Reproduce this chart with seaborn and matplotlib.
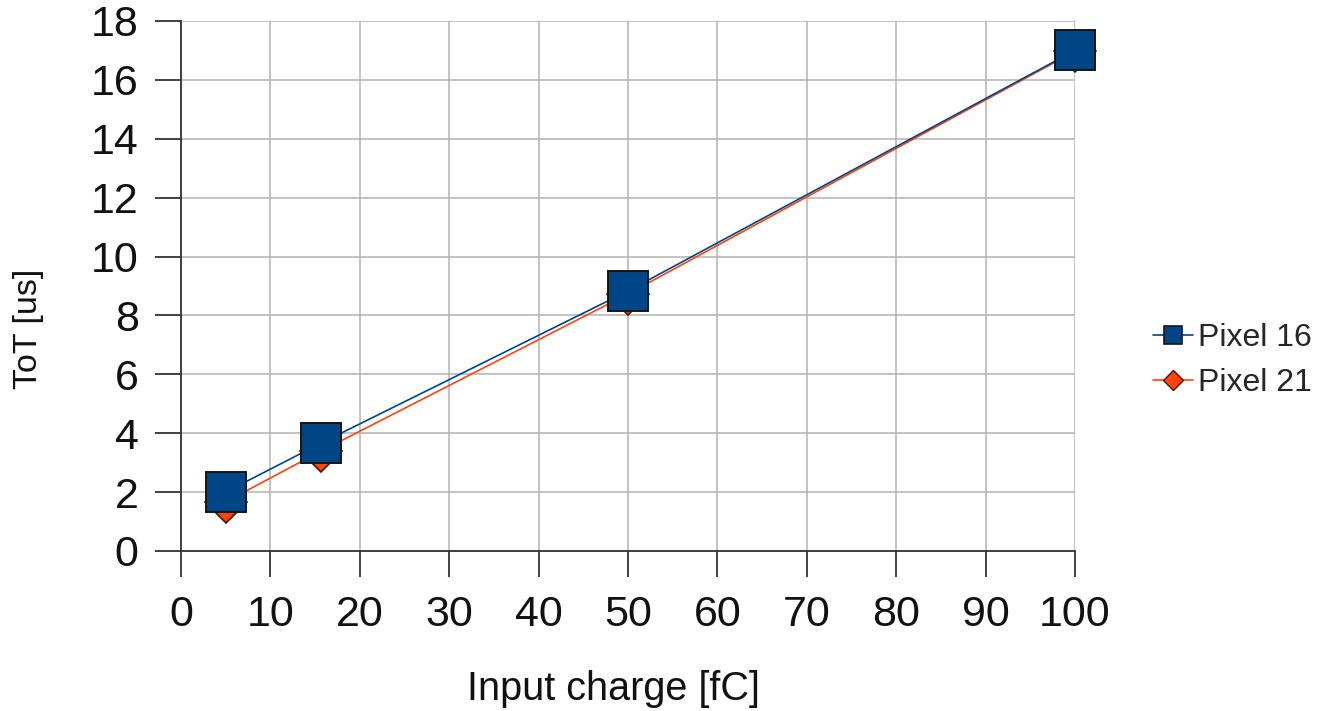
import matplotlib
matplotlib.use("Agg")
import matplotlib.pyplot as plt
from matplotlib.lines import Line2D
import seaborn as sns
import pandas as pd

charge_16 = [5, 15.7, 50, 100]
tot_16 = [2.0, 3.67, 8.83, 17.0]
charge_21 = [5, 15.7, 50, 100]
tot_21 = [1.67, 3.4, 8.73, 16.97]
x_ticks = [0, 10, 20, 30, 40, 50, 60, 70, 80, 90, 100]
y_ticks = [0, 2, 4, 6, 8, 10, 12, 14, 16, 18]

BLUE = "#004586"
RED = "#ff420e"

sns.set_theme(style="white")
plt.rcParams['font.family'] = ['Liberation Sans', 'DejaVu Sans']

fig = plt.figure(figsize=(13.19, 7.11), dpi=100)
ax = fig.add_axes([181/1319, 1 - 551/711, (1075-181)/1319, (551-21)/711])

df16 = pd.DataFrame({"x": charge_16, "y": tot_16})
df21 = pd.DataFrame({"x": charge_21, "y": tot_21})

sns.lineplot(data=df21, x="x", y="y", ax=ax, color=RED, linewidth=1.2,
             marker="D", markersize=21, markeredgecolor="#4a1500", markeredgewidth=1.2,
             zorder=3, clip_on=False, legend=False)
sns.lineplot(data=df16, x="x", y="y", ax=ax, color=BLUE, linewidth=1.2,
             marker="s", markersize=29, markeredgecolor="#151515", markeredgewidth=1.4,
             zorder=4, clip_on=False, legend=False)

ax.set_xlim(0, 100)
ax.set_ylim(0, 18)
ax.set_xticks(x_ticks)
ax.set_yticks(y_ticks)
ax.grid(True, color="#b3b3b3", linewidth=1.1)
ax.set_axisbelow(True)
for s in ["top", "right"]:
    ax.spines[s].set_visible(False)
for s in ["left", "bottom"]:
    ax.spines[s].set_color("#333333")
    ax.spines[s].set_linewidth(1.3)
ax.tick_params(axis="both", direction="out", length=18.5, width=1.3, color="#333333",
               labelsize=31, labelcolor="#111111", bottom=True, left=True)
ax.tick_params(axis="x", pad=13)
ax.tick_params(axis="y", pad=12)

ax.set_xlabel("Input charge [fC]", fontsize=28.5, color="#111111")
ax.set_ylabel("ToT [us]", fontsize=24.5, color="#111111")
ax.xaxis.set_label_coords(0.484, -0.225)
ax.yaxis.set_label_coords(-0.153, 0.419)

h16 = Line2D([], [], color=BLUE, linewidth=1.2, marker="s", markersize=13,
             markeredgecolor="#151515", markeredgewidth=1.2)
h21 = Line2D([], [], color=RED, linewidth=1.2, marker="D", markersize=10,
             markeredgecolor="#4a1500", markeredgewidth=1.0)
fig.legend([h16, h21], ["Pixel 16", "Pixel 21"], loc="upper left",
           bbox_to_anchor=(1153/1319, 1 - 323/711), frameon=False, fontsize=23,
           handlelength=1.25, handletextpad=0.15, labelspacing=0.47,
           borderpad=0, borderaxespad=0)

fig.savefig("out.png", dpi=100)
